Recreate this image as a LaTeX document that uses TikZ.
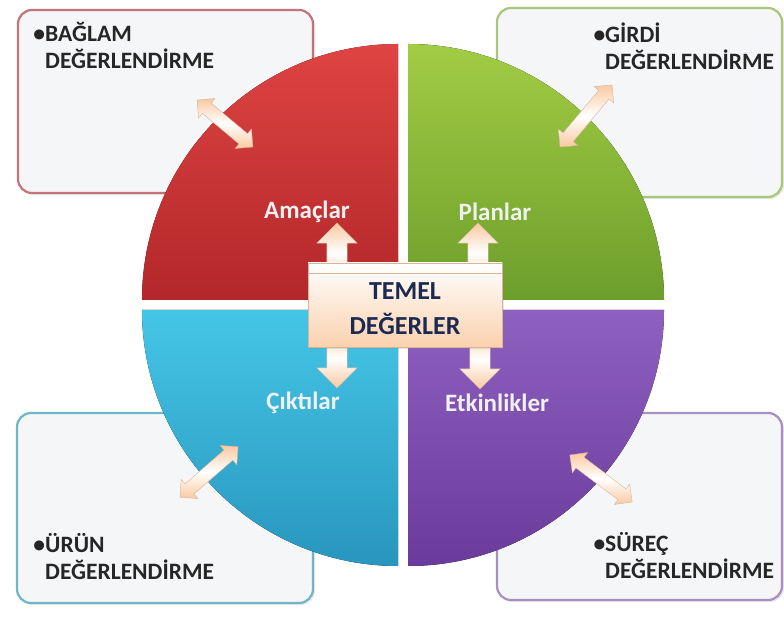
\documentclass[tikz,border=0pt]{standalone}
\usepackage{fontspec}
\setmainfont{Carlito}
\usetikzlibrary{shapes.arrows,shadows}

\definecolor{redtop}{HTML}{DE4442}
\definecolor{redbot}{HTML}{B3272A}
\definecolor{greentop}{HTML}{A2CC44}
\definecolor{greenbot}{HTML}{6C9E2B}
\definecolor{bluetop}{HTML}{45C6E6}
\definecolor{bluebot}{HTML}{2896BE}
\definecolor{purptop}{HTML}{8E60C0}
\definecolor{purpbot}{HTML}{6A3B9B}
\definecolor{redline}{HTML}{C47379}
\definecolor{greenline}{HTML}{A8C67C}
\definecolor{blueline}{HTML}{70B6C6}
\definecolor{purpline}{HTML}{A78FC2}
\definecolor{boxfill}{HTML}{F5F6F7}
\definecolor{peach}{HTML}{F9C9A0}
\definecolor{peachline}{HTML}{D9B49A}
\definecolor{navy}{HTML}{1C2A52}

\begin{document}
\begin{tikzpicture}
[
x=1pt, y=1pt,
box/.style = {rectangle, rounded corners=14pt, line width=2.2pt, fill=boxfill, inner sep=0pt,
  drop shadow={opacity=0.18, shadow xshift=2pt, shadow yshift=-2pt}},
ttl/.style = {font=\fontsize{23.5}{27}\selectfont\bfseries, align=left, anchor=base west, inner sep=0pt, text=black!85},
qlbl/.style = {font=\fontsize{25}{28}\selectfont\bfseries, text=white!94!black, inner sep=0pt},
dbl/.style = {double arrow, double arrow head extend=6pt, minimum width=25pt, inner xsep=0pt, inner ysep=6.5pt,
  top color=peach, bottom color=peach, middle color=white, draw=peachline, thin},
upar/.style = {single arrow, single arrow head extend=10pt, minimum width=40pt, inner xsep=0pt, inner ysep=10pt,
  minimum height=60pt, top color=peach, bottom color=peach, middle color=white, draw=peachline, thin},
core/.style = {rectangle, minimum width=194pt, minimum height=84pt, inner sep=0pt,
  top color=white, bottom color=peach!85, draw=peachline, thin,
  drop shadow={opacity=0.2, shadow xshift=2pt, shadow yshift=-2pt}},
corelbl/.style = {align=center, inner sep=0pt, font=\fontsize{26}{35}\selectfont\bfseries, text=navy},
]
\useasboundingbox [fill=white] (0,0) rectangle (784,618);

% outer boxes
\node [box, draw=redline,   minimum width=295pt, minimum height=183pt] (ctx)  at (165.5, 516.5) {};
\node [box, draw=greenline, minimum width=285pt, minimum height=189pt] (inp)  at (639.5, 515.5) {};
\node [box, draw=blueline,  minimum width=296pt, minimum height=190pt] (prod) at (165.0, 110.0) {};
\node [box, draw=purpline,  minimum width=285pt, minimum height=187pt] (proc) at (639.5, 111.5) {};

\node [ttl] (ctxT)  at ( 45, 549.5) {\llap{•}BAĞLAM\\DEĞERLENDİRME};
\node [ttl] (inpT)  at (605, 548.5) {\llap{•}GİRDİ\\DEĞERLENDİRME};
\node [ttl] (prodT) at ( 45,  38.5) {\llap{•}ÜRÜN\\DEĞERLENDİRME};
\node [ttl] (procT) at (605,  39.5) {\llap{•}SÜREÇ\\DEĞERLENDİRME};

% quadrants
\fill [top color=redtop, bottom color=redbot]
  (398,318) -- ++(-256,0) arc [start angle=180, end angle=90, radius=256] -- cycle;
\fill [top color=greentop, bottom color=greenbot]
  (408,318) -- ++(0,256) arc [start angle=90, end angle=0, radius=256] -- cycle;
\fill [top color=bluetop, bottom color=bluebot]
  (398,308) -- ++(-256,0) arc [start angle=180, end angle=270, radius=256] -- cycle;
\fill [top color=purptop, bottom color=purpbot]
  (408,308) -- ++(0,-256) arc [start angle=270, end angle=360, radius=256] -- cycle;

\node [qlbl] (aims)  at (307, 406) {Amaçlar};
\node [qlbl] (plans) at (495, 406) {Planlar};
\node [qlbl] (outs)  at (303, 215) {Çıktılar};
\node [qlbl] (acts)  at (497, 215) {Etkinlikler};

% arrows
\node [dbl, minimum height=73pt, rotate=-40] (a1) at (225, 494.5) {};
\node [dbl, minimum height=81pt, rotate=50]  (a2) at (586, 502) {};
\node [dbl, minimum height=77pt, rotate=41]  (a3) at (209, 146) {};
\node [dbl, minimum height=78pt, rotate=-37] (a4) at (601, 139.5) {};

\node [upar, rotate=90]  (u1) at (337, 360) {};
\node [upar, rotate=90]  (u2) at (478, 360) {};
\node [upar, rotate=-90] (d1) at (337, 265) {};
\node [upar, rotate=-90] (d2) at (480, 264) {};

% centre
\node [core] (core) at (405, 313) {};
\draw [peachline] ([yshift=-10pt]core.north west) -- ([yshift=-10pt]core.north east);
\node [corelbl] (coreT) at (405, 309) {TEMEL\\DEĞERLER};

\end{tikzpicture}
\end{document}
